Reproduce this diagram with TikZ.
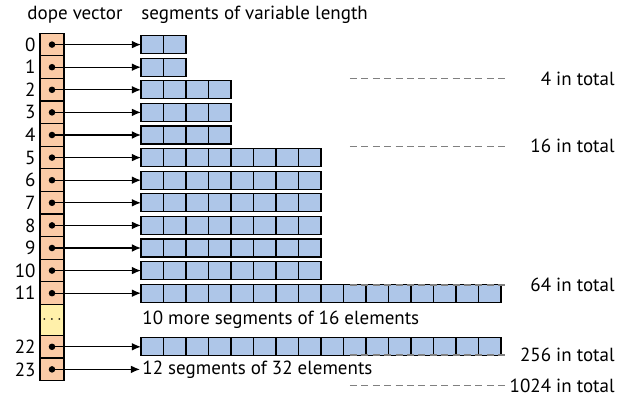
\documentclass[tikz,border=0pt]{standalone}
\usepackage{fontspec}
\setmainfont[Scale=0.95]{PT Sans}
\usetikzlibrary{positioning, arrows.meta}
\definecolor{dopeorange}{HTML}{FBCBA6}
\definecolor{gapyellow}{HTML}{FFF0AA}
\definecolor{segblue}{HTML}{AEC6E8}
\tikzset{
    dopecell/.style={rectangle, draw=black, fill=dopeorange, line width=0.6pt, minimum width=12pt, minimum height=11.3pt, inner sep=0pt, outer sep=0pt},
    gapcell/.style={dopecell, fill=gapyellow, minimum height=15.5pt, font=\footnotesize},
    segcell/.style={rectangle, draw=black, fill=segblue, line width=0.6pt, minimum width=11.25pt, minimum height=9pt, inner sep=0pt, outer sep=0pt},
    ptr/.style={{Circle[length=3.2pt]}-{Latex[length=4.5pt, width=3.8pt]}, line width=0.65pt, shorten <=-1.6pt},
    idx/.style={inner sep=0pt, anchor=east},
    head/.style={inner sep=0pt},
    note/.style={inner sep=1pt, anchor=west},
    totline/.style={gray, line width=0.65pt, dash pattern=on 3.5pt off 2.2pt},
    total/.style={inner sep=0pt, anchor=east},
}

\begin{document}
\begin{tikzpicture}[x=0.5pt, y=-0.5pt]
\useasboundingbox (0,0) rectangle (618,396);

% Dope vector
\node[dopecell] (d0) at (52,44.6) {};
\foreach \i [remember=\i as \j (initially 0)] in {1,...,11} {
  \node[dopecell, below=0pt of d\j] (d\i) {};
}
\node[gapcell, below=0pt of d11] (dgap) {$\cdots$};
\node[dopecell, below=0pt of dgap] (d22) {};
\node[dopecell, below=0pt of d22] (d23) {};
\foreach \i in {0,...,11,22,23} {
  \node[idx, left=2pt of d\i] {\i};
}

% Headers
\node[head, anchor=base east] (dopehead) at (123,19) {dope vector};
\node[head, anchor=base west] (seghead) at (141,19) {segments of variable length};

% Segments
\foreach \i/\n in {0/2, 1/2, 2/4, 3/4, 4/4, 5/8, 6/8, 7/8, 8/8, 9/8, 10/8, 11/16, 22/16} {
  \foreach \k in {1,...,\n} {
    \node[segcell, anchor=west] (s\i-\k) at ([xshift={38.5pt+11.25pt*(\k-1)}]d\i.east) {};
  }
  \draw[ptr] (d\i.center) -- (s\i-1.west);
}
\node[note] (more) at ([xshift=38pt]dgap.east) {10 more segments of 16 elements};
\node[note] (last) at ([xshift=38pt]d23.east) {12 segments of 32 elements};
\draw[ptr] (d23.center) -- (last.west);

% Totals
\coordinate (dashL) at (350,0);
\coordinate (dashR) at (509,0);
\coordinate (lblR) at (615,0);
\foreach \r/\dy/\txt in {d1/0/4, d4/0/16, d10/-1.5/64, d22/1.5/256, d23/-2.5/1024} {
  \draw[totline] ([yshift=\dy pt]dashL |- \r.south) -- ([yshift=\dy pt]dashR |- \r.south);
  \node[total] at ([yshift=\dy pt]lblR |- \r.south) {\txt{} in total};
}
\end{tikzpicture}
\end{document}
